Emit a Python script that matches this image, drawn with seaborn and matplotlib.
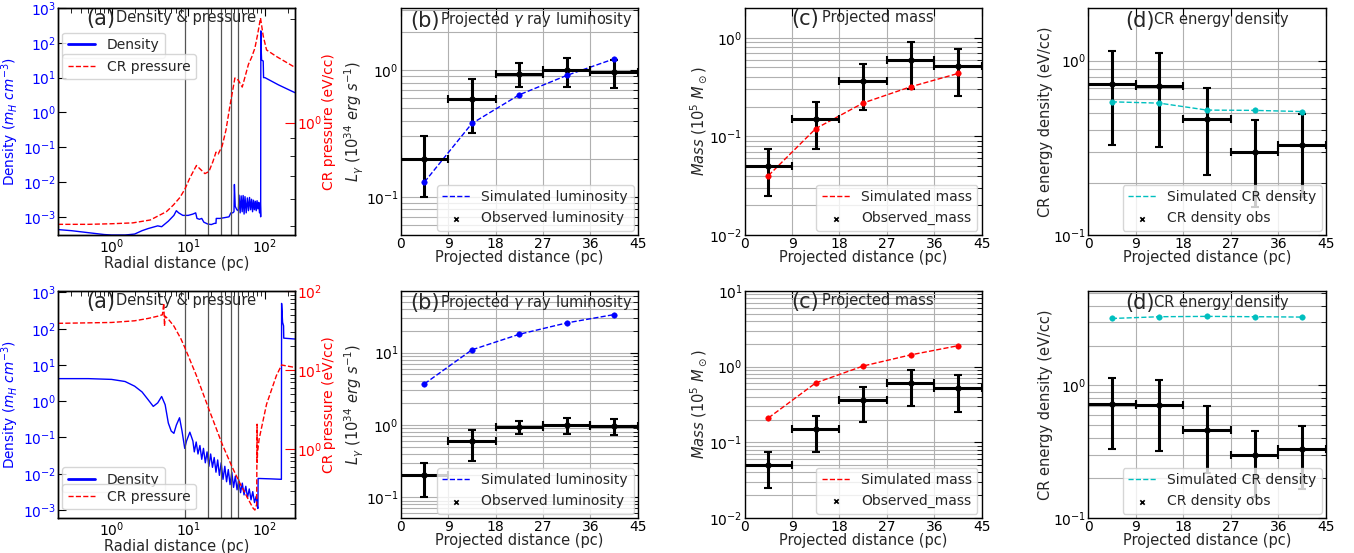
import numpy as np
import pandas as pd
import matplotlib
matplotlib.use("Agg")
import matplotlib.pyplot as plt
import seaborn as sns
from matplotlib.ticker import NullFormatter, NullLocator

# ---------------- data ----------------
# radial profiles, top row (a)
r_dens_top = [0.2, 0.3, 0.5, 0.8, 1.0, 1.5, 2.0, 2.5, 3.0, 4.0, 4.5, 5.5, 6.5, 7.0, 7.5, 8.5,
              10, 11.5, 12.5, 13, 14, 15, 16, 18, 20, 22, 23, 23.2, 26, 30, 34, 36, 38, 39.5,
              40, 41, 43, 45, 46, 47.5, 49, 50.5, 52, 53.5, 55, 57, 59, 61, 63, 65, 67, 69,
              71, 73, 75, 77, 79, 81, 83, 85, 87, 88, 88.5, 89.5, 90.5, 95, 96, 100, 150, 246]
dens_top = [4.3e-4, 4.0e-4, 3.5e-4, 3.1e-4, 3.0e-4, 3.0e-4, 3.2e-4, 4.0e-4, 4.6e-4, 5.5e-4,
            5.2e-4, 7.5e-4, 1.1e-3, 1.5e-3, 1.3e-3, 1.1e-3, 1.1e-3, 1.2e-3, 1.3e-3, 9e-4,
            8.5e-4, 9e-4, 7e-4, 6.2e-4, 6e-4, 6.5e-4, 6.5e-4, 9e-4, 9e-4, 9.5e-4, 1.0e-3,
            1.3e-3, 1.3e-3, 1.4e-3, 8.5e-3, 2.0e-3, 1.6e-3, 1.5e-3, 4.2e-3, 1.3e-3, 4.0e-3,
            1.4e-3, 4.1e-3, 1.2e-3, 3.8e-3, 1.3e-3, 3.5e-3, 1.5e-3, 3.6e-3, 1.6e-3, 3.2e-3,
            1.4e-3, 3.0e-3, 1.6e-3, 2.8e-3, 1.5e-3, 2.9e-3, 1.7e-3, 2.6e-3, 1.3e-3, 2.5e-3,
            1.0e-3, 220, 60, 32, 30, 10, 10, 6.2, 3.7]
r_pres_top = [0.2, 0.5, 1.0, 1.9, 3.2, 5.2, 6.4, 7.8, 9.05, 10.5, 12.8, 14.5, 16.5, 18.6, 21,
              23, 24.6, 27.7, 31, 35, 40.6, 45, 50.6, 55, 61, 67, 74, 80, 87.6, 95, 105, 141, 246]
pres_top = [0.505, 0.505, 0.507, 0.51, 0.52, 0.55, 0.575, 0.605, 0.64, 0.69, 0.75, 0.73, 0.71,
            0.72, 0.77, 0.82, 0.81, 0.855, 0.95, 1.12, 1.35, 1.33, 1.27, 1.36, 1.48, 1.55,
            1.65, 1.8, 2.02, 1.79, 1.63, 1.56, 1.45]

# radial profiles, bottom row (a)
r_dens_bot = [0.2, 0.5, 1.0, 1.5, 2.0, 2.5, 3.0, 3.5, 4.0, 4.5, 5.0, 5.5, 6.0, 6.5, 7.0, 7.7,
              8.3, 9.0, 9.5, 10.5, 11.5, 12, 12.7, 13.4, 14.2, 15, 15.8, 16.7, 17.6, 18.6,
              19.6, 20.7, 21.8, 23, 24.2, 25.5, 26.9, 28.4, 30, 31.6, 33.3, 35.1, 37, 39,
              41.1, 43.3, 45.6, 48.1, 50.7, 53.4, 56.3, 59.3, 62.5, 65.9, 69.4, 73.1, 77,
              80, 81, 81.5, 120, 164, 165, 170, 175, 176, 246]
dens_bot = [4.2, 4.2, 4.0, 3.5, 2.6, 1.8, 1.1, 0.72, 0.9, 1.35, 0.8, 0.25, 0.15, 0.13, 0.22,
            0.35, 0.15, 0.05, 0.08, 0.14, 0.08, 0.04, 0.075, 0.035, 0.06, 0.025, 0.05, 0.02,
            0.04, 0.016, 0.035, 0.015, 0.028, 0.011, 0.024, 0.009, 0.02, 0.007, 0.016, 0.006,
            0.013, 0.005, 0.011, 0.0042, 0.0085, 0.0036, 0.0068, 0.003, 0.0055, 0.0026,
            0.0045, 0.0022, 0.0038, 0.0019, 0.0032, 0.0016, 0.0024, 0.0012, 0.0011, 0.0074,
            0.0072, 0.0070, 500, 150, 120, 55, 52]
r_pres_bot = [0.2, 1.0, 2.0, 3.0, 4.0, 4.6, 4.8, 4.9, 5.0, 5.5, 6.5, 8.0, 9.0, 12.8, 18.6,
              27.7, 37.5, 48, 61, 70, 74, 78, 79, 79.5, 80, 84, 105, 141, 165, 246]
pres_bot = [39, 40, 42, 45, 48, 50, 70, 36, 48, 44, 36, 25, 19.4, 8.5, 3.2, 1.16, 0.59, 0.36,
            0.23, 0.18, 0.17, 0.2, 2.07, 0.68, 0.9, 1.34, 3.7, 8.5, 11.6, 10.8]

shell_edges = [9, 18, 27, 36, 45]

# projected profiles (b)-(d)
proj_centre = [4.5, 13.5, 22.5, 31.5, 40.5]
proj_halfwidth = [4.5, 4.5, 4.5, 4.5, 4.5]
obs_lum = [0.20, 0.59, 0.94, 1.00, 0.96]
obs_lum_err = [0.10, 0.27, 0.20, 0.26, 0.24]
sim_lum_top = [0.131, 0.38, 0.64, 0.91, 1.23]
sim_lum_bot = [3.7, 10.9, 17.9, 25.7, 33.5]
obs_mass = [0.050, 0.150, 0.365, 0.60, 0.515]
obs_mass_err = [0.025, 0.075, 0.18, 0.30, 0.26]
sim_mass_top = [0.040, 0.12, 0.218, 0.318, 0.434]
sim_mass_bot = [0.21, 0.61, 1.02, 1.43, 1.89]
obs_cr = [0.73, 0.71, 0.46, 0.30, 0.33]
obs_cr_err = [0.40, 0.39, 0.24, 0.155, 0.165]
sim_cr_top = [0.58, 0.57, 0.52, 0.518, 0.51]
sim_cr_bot = [3.2, 3.3, 3.32, 3.3, 3.28]

proj_ticks = [0, 9, 18, 27, 36, 45]

# ---------------- style ----------------
sns.set_style("white")
plt.rcParams.update({
    "font.family": ["DejaVu Sans"],
    "mathtext.fontset": "dejavusans",
    "xtick.direction": "in", "ytick.direction": "in",
    "xtick.top": True, "ytick.right": True,
    "xtick.major.size": 6, "ytick.major.size": 6,
    "xtick.minor.size": 3.5, "ytick.minor.size": 3.5,
    "xtick.major.pad": 1.5, "xtick.minor.pad": 1.5,
    "ytick.major.pad": 1.5, "ytick.minor.pad": 1.5,
    "xtick.labelsize": 10, "ytick.labelsize": 10,
    "axes.labelsize": 10.5, "legend.fontsize": 10,
    "axes.edgecolor": "black", "axes.linewidth": 1.0,
    "xtick.color": "black", "ytick.color": "black",
})

fig = plt.figure(figsize=(13.54, 5.53), dpi=100)
lefts = [0.0428, 0.296, 0.550, 0.8036]
W = 0.175
bottoms = [0.575, 0.0633]
H = 0.4105

GRID = "#b0b0b0"


def panel_label(ax, letter, title, x_letter, x_title, y=0.952):
    ax.text(x_letter, y, letter, transform=ax.transAxes, fontsize=15, va="center", ha="left", zorder=10)
    ax.text(x_title, y + 0.005, title, transform=ax.transAxes, fontsize=10.5, va="center", ha="left", zorder=10)


def panel_a(ax, rd, dd, rp, pp, p_ylim, top):
    sns.lineplot(x=rd, y=dd, ax=ax, color="blue", lw=1.0, label="Density",
                 estimator=None, sort=False)
    ax.set_xscale("log")
    ax.set_yscale("log")
    for v in shell_edges:
        ax.axvline(v, color="#555555", lw=0.9)
    ax.set_xlim(0.2, 246)
    ax.set_ylim(3e-4 if top else 6e-4, 1e3 if top else 1.1e3)
    ax.yaxis.set_minor_locator(NullLocator())
    ax.set_xlabel("Radial distance (pc)", labelpad=0)
    ax.set_ylabel(r"Density ($m_H$ $cm^{-3}$)", color="blue", labelpad=1, fontsize=9.8)
    ax.tick_params(axis="y", which="both", labelcolor="blue", right=False)
    ax2 = ax.twinx()
    sns.lineplot(x=rp, y=pp, ax=ax2, color="red", lw=1.0, linestyle="--", label="CR pressure",
                 estimator=None, sort=False)
    ax2.set_yscale("log")
    ax2.set_ylim(*p_ylim)
    ax2.yaxis.set_minor_formatter(NullFormatter())
    ax2.tick_params(axis="y", which="major", colors="red", direction="in", length=7, pad=1.5)
    ax2.tick_params(axis="y", which="minor", colors="black", direction="in")
    ax2.set_ylabel("CR pressure (eV/cc)", color="red", labelpad=-0.5, fontsize=10)
    if top:
        l1 = ax.legend(loc="upper left", bbox_to_anchor=(0.0, 0.91), borderaxespad=0.3)
        l2 = ax2.legend(loc="upper left", bbox_to_anchor=(0.0, 0.815), borderaxespad=0.3)
    else:
        l1 = ax.legend(loc="lower left", bbox_to_anchor=(0.0, 0.095), borderaxespad=0.3)
        l2 = ax2.legend(loc="lower left", bbox_to_anchor=(0.0, 0.02), borderaxespad=0.3)
    for h in l1.legend_handles:
        h.set_linewidth(2.0)
    panel_label(ax, "(a)", "Density & pressure", 0.12, 0.245)


def panel_proj(ax, sim, obs, err, color, sim_label, obs_label, ylabel, ylim):
    sns.lineplot(x=proj_centre, y=sim, ax=ax, color=color, lw=1.0, linestyle="--",
                 label=sim_label, estimator=None, sort=False)
    sns.scatterplot(x=proj_centre, y=sim, ax=ax, color=color, marker="o", s=16,
                    edgecolor=color, legend=False, zorder=4)
    ax.errorbar(proj_centre, obs, xerr=proj_halfwidth, yerr=err, fmt="none", ecolor="black",
                elinewidth=2.2, capsize=3, capthick=1.5, zorder=3)
    sns.scatterplot(x=proj_centre, y=obs, ax=ax, color="black", marker="x", s=10,
                    linewidth=1.2, label=obs_label, zorder=5)
    ax.set_yscale("log")
    ax.set_xlim(0, 45)
    ax.set_ylim(*ylim)
    ax.set_xticks(proj_ticks)
    ax.yaxis.set_minor_formatter(NullFormatter())
    ax.grid(True, which="major", axis="both", color=GRID, lw=0.8)
    ax.grid(True, which="minor", axis="y", color=GRID, lw=0.8)
    ax.set_axisbelow(True)
    ax.set_xlabel("Projected distance (pc)", labelpad=-0.5)
    ax.set_ylabel(ylabel, labelpad=0)
    ax.legend(loc="lower right", borderaxespad=0.3)


for row, top in enumerate([True, False]):
    b = bottoms[row]
    axa = fig.add_axes([lefts[0], b, W, H])
    if top:
        panel_a(axa, r_dens_top, dens_top, r_pres_top, pres_top, (0.47, 2.16), True)
    else:
        panel_a(axa, r_dens_bot, dens_bot, r_pres_bot, pres_bot, (0.135, 100), False)

    axb = fig.add_axes([lefts[1], b, W, H])
    panel_proj(axb, sim_lum_top if top else sim_lum_bot, obs_lum, obs_lum_err, "blue",
               "Simulated luminosity", "Observed luminosity",
               r"$L_\gamma$ ($10^{34}\ erg\ s^{-1}$)", (0.05, 3.1) if top else (0.0517, 71))
    panel_label(axb, "(b)", r"Projected $\gamma$ ray luminosity", 0.038, 0.165, y=0.945)

    axc = fig.add_axes([lefts[2], b, W, H])
    panel_proj(axc, sim_mass_top if top else sim_mass_bot, obs_mass, obs_mass_err, "red",
               "Simulated mass", "Observed_mass",
               r"$Mass$ ($10^5\ M_\odot$)", (0.01, 2.0) if top else (0.01, 10))
    panel_label(axc, "(c)", "Projected mass", 0.198, 0.325)

    axd = fig.add_axes([lefts[3], b, 0.1757, H])
    panel_proj(axd, sim_cr_top if top else sim_cr_bot, obs_cr, obs_cr_err, "c",
               "Simulated CR density", "CR density obs",
               "CR energy density (eV/cc)", (0.1, 2.0) if top else (0.1, 5.16))
    panel_label(axd, "(d)", "CR energy density", 0.155, 0.277, y=0.945)

fig.savefig("out.png", dpi=100)
